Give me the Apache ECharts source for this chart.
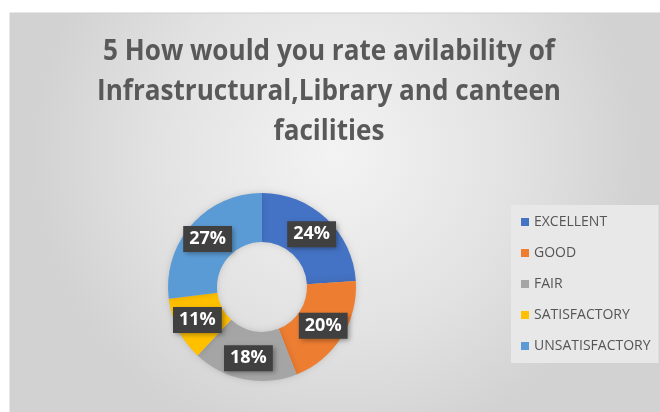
<!DOCTYPE html>
<html>
<head>
<meta charset="utf-8">
<script src="https://cdn.jsdelivr.net/npm/echarts@6/dist/echarts.min.js"></script>
<style>
  html, body { margin: 0; padding: 0; background: #ffffff; }
  #chart { width: 660px; height: 412px; }
</style>
</head>
<body>
<div id="chart"></div>
<script>
// Survey question 5: ratings of infrastructure, library and canteen facilities
const titleLines = [
  '5 How would you rate avilability of',
  'Infrastructural,Library and canteen',
  'facilities'
];
const categories = ['EXCELLENT', 'GOOD', 'FAIR', 'SATISFACTORY', 'UNSATISFACTORY'];
const percents = [24, 20, 18, 11, 27];
const colors = ['#4472C4', '#ED7D31', '#A5A5A5', '#FFC000', '#5B9BD5'];

const chart = echarts.init(document.getElementById('chart'), null, { renderer: 'canvas' });

// Title drawn one line at a time, centred and slightly condensed
const titleGraphics = titleLines.map((line, i) => ({
  type: 'text',
  z: 5,
  x: 329,
  y: 52 + i * 40,
  scaleX: 0.9,
  style: {
    text: line,
    fill: '#595959',
    font: 'bold 29px "Open Sans", sans-serif',
    textAlign: 'center',
    textVerticalAlign: 'middle'
  }
}));

const option = {
  backgroundColor: '#ffffff',
  animation: false,
  graphic: [
    {
      type: 'rect',
      z: -10,
      shape: { x: 10, y: 13, width: 652, height: 402 },
      style: {
        fill: {
          type: 'radial', x: 0.5, y: 0.35, r: 0.75,
          colorStops: [
            { offset: 0, color: '#f3f3f3' },
            { offset: 0.6, color: '#e2e2e2' },
            { offset: 1, color: '#d2d2d2' }
          ]
        },
        stroke: '#cfcfcf', lineWidth: 1
      }
    }
  ].concat(titleGraphics),
  legend: {
    orient: 'vertical',
    left: 511,
    top: 205,
    padding: [10, 8, 10, 10],
    backgroundColor: '#e8e8e8',
    itemWidth: 8,
    itemHeight: 8,
    itemGap: 17,
    icon: 'rect',
    textStyle: { color: '#555555', fontSize: 14, fontFamily: '"Open Sans", sans-serif' },
    data: categories
  },
  series: [
    {
      type: 'pie',
      center: [262, 287],
      radius: [45, 94],
      startAngle: 90,
      clockwise: true,
      avoidLabelOverlap: false,
      itemStyle: {
        shadowBlur: 6,
        shadowColor: 'rgba(0,0,0,0.15)'
      },
      label: {
        show: true,
        position: 'inside',
        formatter: '{c}%',
        color: '#ffffff',
        fontWeight: 'bold',
        fontSize: 18,
        fontFamily: '"Open Sans", sans-serif',
        backgroundColor: '#404040',
        padding: [5, 6, 3, 6],
        shadowBlur: 5,
        shadowOffsetX: 2,
        shadowOffsetY: 2,
        shadowColor: 'rgba(0,0,0,0.35)'
      },
      labelLine: { show: false },
      data: categories.map((name, i) => ({
        name: name,
        value: percents[i],
        itemStyle: { color: colors[i] }
      }))
    }
  ]
};

chart.setOption(option);
</script>
</body>
</html>
